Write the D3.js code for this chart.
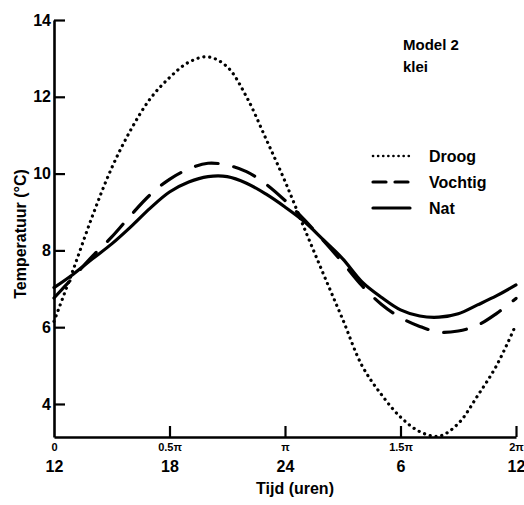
<!DOCTYPE html>
<html>
<head>
<meta charset="utf-8">
<script src="https://cdn.jsdelivr.net/npm/d3@7"></script>
<style>
  body { margin: 0; background: #fff; }
  text { font-family: "Liberation Sans", Arial, sans-serif; font-weight: bold; fill: #000; }
</style>
</head>
<body>
<div class="container"></div>
<script>
// hours after 12:00 (0..24 = 0..2π)
const uur = [0, 1, 2, 3, 4, 5, 6, 7, 8, 9, 10, 11, 12, 13, 14, 15, 16, 17, 18, 19, 20, 21, 22, 23, 24];
const droog = [6.15, 7.5, 8.9, 10.15, 11.15, 11.95, 12.5, 12.9, 13.04, 12.78, 12.0, 10.92, 9.8, 8.58, 7.38, 6.2, 5.0, 4.25, 3.66, 3.28, 3.16, 3.49, 4.21, 5.01, 6.07];
const vochtig = [6.76, 7.3, 7.85, 8.35, 8.92, 9.45, 9.85, 10.12, 10.27, 10.22, 10.05, 9.73, 9.3, 8.8, 8.25, 7.68, 7.08, 6.6, 6.25, 6.02, 5.87, 5.9, 6.05, 6.36, 6.75];
const nat = [7.03, 7.38, 7.78, 8.17, 8.62, 9.1, 9.52, 9.78, 9.92, 9.92, 9.75, 9.47, 9.13, 8.75, 8.27, 7.78, 7.18, 6.78, 6.45, 6.29, 6.26, 6.35, 6.58, 6.82, 7.1];

const xTicks = [0, 6, 12, 18, 24];
const piLabels = ['0', '0.5π', 'π', '1.5π', '2π'];
const hourLabels = ['12', '18', '24', '6', '12'];
const yTicks = [4, 6, 8, 10, 12, 14];

const series = [
    { name: 'Droog', values: droog, dash: '0.1,5.8', width: 3.2 },
    { name: 'Vochtig', values: vochtig, dash: '23,16', width: 3.2 },
    { name: 'Nat', values: nat, dash: null, width: 3.2 },
];

const width = 524;
const height = 505;
const margin = { top: 20, right: 8, bottom: 68, left: 54 };

const svg = d3.select('.container')
    .append('svg')
    .attr('width', width)
    .attr('height', height);

const x = d3.scaleLinear().domain([0, 24]).range([margin.left, width - margin.right]);
const y = d3.scaleLinear().domain([3.14, 14]).range([height - margin.bottom, margin.top]);

// y axis, ticks pointing inward
const yAxis = svg.append('g')
    .attr('transform', `translate(${margin.left},0)`)
    .call(d3.axisLeft(y).tickValues(yTicks).tickSizeInner(-11).tickSizeOuter(0).tickPadding(3));
yAxis.select('.domain').attr('stroke-width', 2.6);
yAxis.selectAll('.tick line').attr('stroke-width', 2.2);
yAxis.selectAll('.tick text').attr('font-size', 16).attr('font-family', null);

// x axis with π labels
const xAxis = svg.append('g')
    .attr('transform', `translate(0,${height - margin.bottom})`)
    .call(d3.axisBottom(x).tickValues(xTicks).tickFormat((d, i) => piLabels[i])
        .tickSizeInner(-11).tickSizeOuter(0).tickPadding(6));
xAxis.select('.domain').attr('stroke-width', 2.6);
xAxis.selectAll('.tick line').attr('stroke-width', 2.2);
xAxis.selectAll('.tick line').filter(d => d === 0).remove();
xAxis.selectAll('.tick text').attr('font-size', 11).attr('font-family', null);

// second row: clock hours
const hourAxis = svg.append('g')
    .attr('transform', `translate(0,${height - margin.bottom + 20})`)
    .call(d3.axisBottom(x).tickValues(xTicks).tickFormat((d, i) => hourLabels[i]).tickSize(0).tickPadding(4));
hourAxis.select('.domain').remove();
hourAxis.selectAll('.tick text').attr('font-size', 16).attr('font-family', null);

// axis titles
svg.append('text')
    .attr('x', 295)
    .attr('y', 494)
    .attr('text-anchor', 'middle')
    .attr('font-size', 16)
    .text('Tijd (uren)');

svg.append('text')
    .attr('transform', 'translate(26,234) rotate(-90)')
    .attr('text-anchor', 'middle')
    .attr('font-size', 16)
    .text('Temperatuur (°C)');

// curves
const line = d3.line()
    .x((d, i) => x(uur[i]))
    .y(d => y(d))
    .curve(d3.curveCatmullRom);

series.forEach(s => {
    svg.append('path')
        .datum(s.values)
        .attr('d', line)
        .attr('fill', 'none')
        .attr('stroke', '#000')
        .attr('stroke-width', s.width)
        .attr('stroke-linecap', 'round')
        .attr('stroke-dasharray', s.dash);
});

// annotation
svg.append('text').attr('x', 403).attr('y', 50).attr('font-size', 15).text('Model 2');
svg.append('text').attr('x', 403).attr('y', 72).attr('font-size', 15).text('klei');

// legend
const legend = svg.append('g').attr('transform', 'translate(372,156)');
series.forEach((s, i) => {
    const g = legend.append('g').attr('transform', `translate(0,${i * 26})`);
    g.append('line')
        .attr('x1', 1).attr('x2', 38)
        .attr('stroke', '#000')
        .attr('stroke-width', i === 0 ? 2.6 : s.width)
        .attr('stroke-linecap', 'round')
        .attr('stroke-dasharray', s.dash ? (i === 0 ? '0.1,5' : '13,9') : null);
    g.append('text')
        .attr('x', 57)
        .attr('dy', '0.35em')
        .attr('font-size', 16)
        .text(s.name);
});
</script>
</body>
</html>
